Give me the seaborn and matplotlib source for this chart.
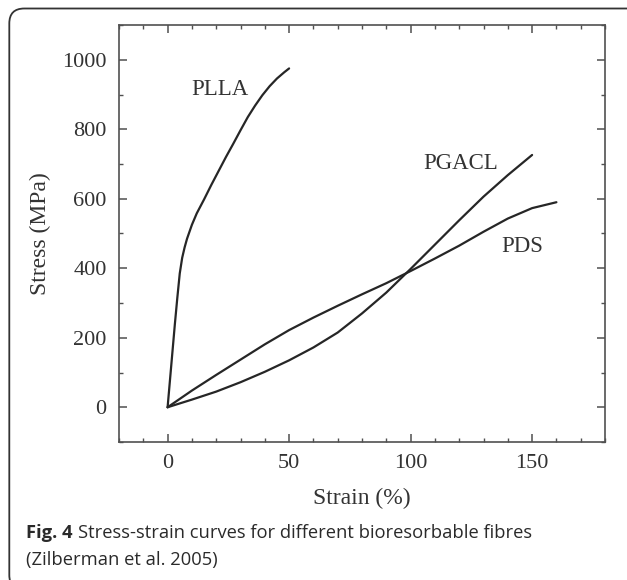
import matplotlib
matplotlib.use('Agg')
import matplotlib.pyplot as plt
import matplotlib.patches as mpatches
from matplotlib.ticker import MultipleLocator
import seaborn as sns
import pandas as pd
import numpy as np

# ── data ──────────────────────────────────────────────────────
plla_strain = [0, 1, 2, 3, 4, 5, 6, 7, 8, 10, 12, 15, 18, 21, 24, 27, 30, 33, 36, 39, 42, 45, 48, 50]
plla_stress = [0, 80, 160, 240, 315, 385, 430, 460, 485, 525, 558, 598, 640, 680, 720, 758, 797, 835, 868, 898, 924, 946, 964, 975]

pgacl_strain = [0, 10, 20, 30, 40, 50, 60, 70, 80, 90, 100, 110, 120, 130, 140, 150]
pgacl_stress = [0, 22, 45, 72, 102, 135, 172, 215, 270, 330, 398, 468, 538, 606, 668, 726]

pds_strain = [0, 10, 20, 30, 40, 50, 60, 70, 80, 90, 100, 110, 120, 130, 140, 150, 160]
pds_stress = [0, 48, 93, 137, 181, 222, 258, 292, 325, 357, 392, 428, 465, 505, 543, 573, 590]

curve_labels = ['PLLA', 'PGACL', 'PDS']
label_pos = [(21.6, 914), (120.4, 702), (145.9, 464)]

xticks = [0, 50, 100, 150]
yticks = [0, 200, 400, 600, 800, 1000]

sns.set_style('ticks')
plt.rcParams.update({
    'font.family': ['Liberation Serif', 'DejaVu Serif'],
    'axes.edgecolor': '#505050',
    'axes.linewidth': 1.2,
})

W, H = 627, 580
fig = plt.figure(figsize=(W / 100, H / 100), dpi=100)
ax = fig.add_axes([119 / W, 1 - 442 / H, 486 / W, 417 / H])

line_color = '#262626'
for xs, ys in [(plla_strain, plla_stress), (pgacl_strain, pgacl_stress), (pds_strain, pds_stress)]:
    df = pd.DataFrame({'strain': xs, 'stress': ys})
    sns.lineplot(data=df, x='strain', y='stress', ax=ax, color=line_color,
                 linewidth=1.6, sort=False, estimator=None)

for lab, (lx, ly) in zip(curve_labels, label_pos):
    ax.text(lx, ly, lab, ha='center', va='center', fontsize=16.5, color='#333333')

ax.set_xlim(-20, 180)
ax.set_ylim(-100, 1100)
ax.set_xticks(xticks)
ax.set_yticks(yticks)
ax.xaxis.set_minor_locator(MultipleLocator(10))
ax.yaxis.set_minor_locator(MultipleLocator(100))
ax.tick_params(which='both', direction='in', top=True, right=True, color='#505050')
ax.tick_params(which='major', length=6, width=1.1, labelsize=16, labelcolor='#333333', pad=9)
ax.tick_params(which='minor', length=3, width=1.0)
for s in ax.spines.values():
    s.set_visible(True)

ax.set_xlabel('Strain (%)', fontsize=17, color='#333333', labelpad=10)
ax.set_ylabel('Stress (MPa)', fontsize=17, color='#333333', labelpad=8)

# rounded frame round the figure (inches, runs off the right and bottom edges)
frame = mpatches.FancyBboxPatch((0.093, -0.10), 7.0 - 0.093, 5.715 + 0.10,
                                boxstyle='round,pad=0,rounding_size=0.15',
                                transform=fig.dpi_scale_trans, fill=False,
                                edgecolor='#333333', linewidth=1.3, clip_on=False)
fig.patches.append(frame)

# caption
cap_font = ['Open Sans', 'DejaVu Sans']
cap_size = 13.2
t1 = fig.text(26 / W, 1 - 533 / H, 'Fig. 4', fontsize=cap_size, fontweight='bold',
              family=cap_font, color='#2a2a2a', va='center')
fig.canvas.draw()
bb = t1.get_window_extent(renderer=fig.canvas.get_renderer())
fig.text(bb.x1 / W + 5 / W, 1 - 533 / H, 'Stress-strain curves for different bioresorbable fibres',
         fontsize=cap_size, family=cap_font, color='#2a2a2a', va='center')
fig.text(26 / W, 1 - 560 / H, '(Zilberman et al. 2005)', fontsize=cap_size,
         family=cap_font, color='#2a2a2a', va='center')

fig.savefig('out.png', dpi=100, facecolor='white')
plt.close(fig)
